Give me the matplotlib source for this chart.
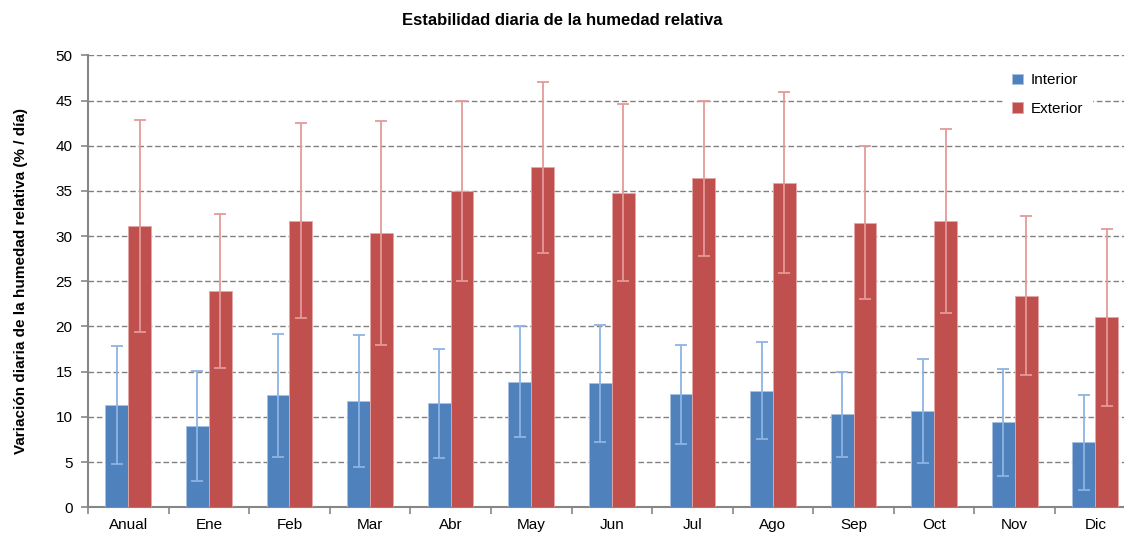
import matplotlib
matplotlib.use("Agg")
import matplotlib.pyplot as plt
import numpy as np
from matplotlib import font_manager

names = {f.name for f in font_manager.fontManager.ttflist}
fam = "Liberation Sans Narrow" if "Liberation Sans Narrow" in names else "Liberation Sans"
plt.rcParams['font.family'] = [fam, 'DejaVu Sans']

categories = ["Anual", "Ene", "Feb", "Mar", "Abr", "May", "Jun", "Jul", "Ago", "Sep", "Oct", "Nov", "Dic"]
interior = [11.3, 9.0, 12.4, 11.8, 11.5, 13.9, 13.7, 12.5, 12.9, 10.3, 10.7, 9.4, 7.2]
interior_err = [6.5, 6.1, 6.8, 7.3, 6.0, 6.1, 6.5, 5.5, 5.4, 4.7, 5.75, 5.9, 5.25]
exterior = [31.1, 23.9, 31.7, 30.3, 35.0, 37.6, 34.8, 36.4, 35.9, 31.5, 31.7, 23.4, 21.0]
exterior_err = [11.7, 8.5, 10.8, 12.4, 10.0, 9.5, 9.8, 8.6, 10.0, 8.5, 10.2, 8.8, 9.8]
yticks = list(range(0, 51, 5))

blue = "#4F81BD"
red = "#C0504D"

fig = plt.figure(figsize=(11.24, 5.35), dpi=100)
ax = fig.add_axes([0.0783, 0.0518, 0.932, 0.8448])

x = np.arange(len(categories))
w = 0.283
ax.bar(x - w/2, interior, w, color=blue, edgecolor="#A9C2E2", linewidth=0.6, label="Interior", zorder=3)
ax.bar(x + w/2, exterior, w, color=red, edgecolor="#E4A7A5", linewidth=0.6, label="Exterior", zorder=3)
ax.errorbar(x - w/2, interior, yerr=interior_err, fmt="none", ecolor="#8DB4E3", elinewidth=1.3, capsize=4, capthick=1.3, zorder=4)
ax.errorbar(x + w/2, exterior, yerr=exterior_err, fmt="none", ecolor="#E39A99", elinewidth=1.3, capsize=4, capthick=1.3, zorder=4)

ax.set_xlim(-0.5, len(categories) - 0.5)
ax.set_ylim(0, 50)
ax.set_yticks(yticks)
ax.set_yticklabels([str(v) for v in yticks], fontsize=11)
ax.set_xticks(x)
ax.set_xticklabels(categories, fontsize=11)
ax.tick_params(axis="x", length=0, pad=8)
ax.set_xticks(np.arange(-0.5, len(categories), 1), minor=True)
ax.tick_params(axis="x", which="minor", length=5, color="#868686", width=1.2)
ax.tick_params(axis="y", length=5, color="#868686", width=1.2, pad=6)

for v in yticks[1:]:
    ax.axhline(v, color="#808080", linestyle=(0, (4, 2)), linewidth=1.0, zorder=1)

for s in ["top", "right"]:
    ax.spines[s].set_visible(False)
for s in ["left", "bottom"]:
    ax.spines[s].set_color("#868686")
    ax.spines[s].set_linewidth(1.5)

ax.set_ylabel("Variación diaria de la humedad relativa (% / día)", fontsize=11, fontweight="bold", labelpad=20)
fig.suptitle("Estabilidad diaria de la humedad relativa", fontsize=12, fontweight="bold", y=0.975)

leg = ax.legend(loc="upper right", bbox_to_anchor=(0.966, 0.997), frameon=True, fancybox=False,
                edgecolor="white", framealpha=1, fontsize=11, handlelength=0.7, handleheight=0.7,
                handletextpad=0.5, labelspacing=0.95, borderpad=0.6)
leg.set_zorder(5)

fig.savefig("out.png", dpi=100)
